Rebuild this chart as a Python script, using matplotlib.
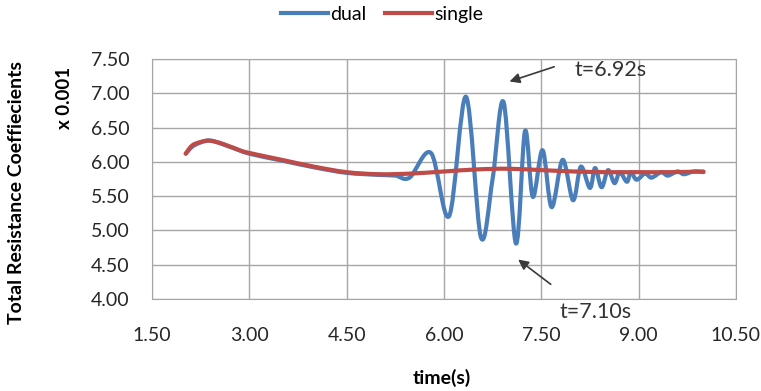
import numpy as np
import matplotlib
matplotlib.use("Agg")
import matplotlib.pyplot as plt
from matplotlib.path import Path
from matplotlib.patches import PathPatch
from matplotlib.lines import Line2D

plt.rcParams['font.family'] = ['Lato', 'DejaVu Sans']

# values (time in s, coefficient x 0.001)
t_dual = [2.02, 2.15, 2.39, 2.70, 3.00, 3.50, 4.00, 4.50, 5.00, 5.25, 5.47, 5.80,
          6.08, 6.34, 6.57, 6.75, 6.92, 7.11, 7.25, 7.37, 7.52, 7.66, 7.83, 7.99,
          8.11, 8.25, 8.33, 8.43, 8.53, 8.63, 8.71, 8.82, 8.88, 8.97, 9.10, 9.20,
          9.35, 9.45, 9.60, 9.70, 9.85, 10.00]
v_dual = [6.12, 6.24, 6.31, 6.22, 6.12, 6.02, 5.92, 5.84, 5.81, 5.80, 5.77, 6.13,
          5.21, 6.95, 4.90, 5.75, 6.87, 4.81, 6.45, 5.49, 6.17, 5.34, 6.03, 5.44,
          5.93, 5.62, 5.91, 5.63, 5.88, 5.69, 5.85, 5.71, 5.85, 5.74, 5.83, 5.77,
          5.85, 5.80, 5.86, 5.82, 5.86, 5.85]

t_single = [2.02, 2.12, 2.25, 2.39, 2.60, 2.85, 3.00, 3.50, 4.00, 4.50, 5.00, 5.50,
            6.00, 6.50, 7.00, 7.50, 8.00, 8.50, 9.00, 9.50, 10.00]
v_single = [6.12, 6.24, 6.29, 6.31, 6.26, 6.17, 6.13, 6.03, 5.93, 5.85, 5.82, 5.83,
            5.86, 5.89, 5.90, 5.88, 5.86, 5.85, 5.85, 5.85, 5.86]

x_ticks = [1.5, 3.0, 4.5, 6.0, 7.5, 9.0, 10.5]
y_ticks = [4.0, 4.5, 5.0, 5.5, 6.0, 6.5, 7.0, 7.5]

blue = '#4a7ebb'
red = '#be4b48'


# smoothed line like the spreadsheet one (Bezier through the points)
def smooth_path(x, y):
    p = np.column_stack([x, y])
    n = len(p)
    verts = [p[0]]
    codes = [Path.MOVETO]
    for i in range(n - 1):
        p0 = p[i - 1] if i > 0 else p[i]
        p3 = p[i + 2] if i + 2 < n else p[i + 1]
        c1 = p[i] + (p[i + 1] - p0) / 6
        c2 = p[i + 1] - (p3 - p[i]) / 6
        verts += [c1, c2, p[i + 1]]
        codes += [Path.CURVE4] * 3
    return Path(verts, codes)


fig = plt.figure(figsize=(7.61, 3.91), dpi=100)
ax = fig.add_axes([0.1997, 0.2353, 0.7673, 0.6137])

for t, v, c in [(t_dual, v_dual, blue), (t_single, v_single, red)]:
    ax.add_patch(PathPatch(smooth_path(t, v), fill=False, edgecolor=c, lw=3,
                           capstyle='round', joinstyle='round'))

ax.set_xlim(1.5, 10.5)
ax.set_ylim(4.0, 7.5)
ax.set_xticks(x_ticks)
ax.set_yticks(y_ticks)
ax.set_xticklabels(['%.2f' % v for v in x_ticks])
ax.set_yticklabels(['%.2f' % v for v in y_ticks])
ax.tick_params(length=0, labelsize=14, colors='#262626')
ax.tick_params(axis='y', pad=16)
ax.tick_params(axis='x', pad=20)
ax.grid(True, color='#a6a6a6', lw=1)
ax.set_axisbelow(True)
for s in ax.spines.values():
    s.set_color('#a6a6a6')

fig.text(0.022, 0.507, 'Total Resistance Coeffiecients', rotation=90, fontsize=14,
         fontweight='bold', ha='center', va='center')
fig.text(0.085, 0.749, 'x 0.001', rotation=90, fontsize=13.5,
         fontweight='bold', ha='center', va='center')
fig.text(0.580, 0.033, 'time(s)', fontsize=14, fontweight='bold',
         ha='center', va='center')

ax.annotate('', xy=(6.97, 7.16), xytext=(7.74, 7.40),
            arrowprops=dict(arrowstyle='-|>', color='#3a3a3a', lw=1.2,
                            mutation_scale=15), annotation_clip=False)
ax.text(8.01, 7.34, 't=6.92s', fontsize=15.5, color='#333333', va='center')
ax.annotate('', xy=(7.11, 4.60), xytext=(7.68, 4.19),
            arrowprops=dict(arrowstyle='-|>', color='#3a3a3a', lw=1.2,
                            mutation_scale=15), annotation_clip=False)
ax.text(7.78, 3.81, 't=7.10s', fontsize=15.5, color='#333333', va='center',
        clip_on=False)

handles = [Line2D([], [], color=blue, lw=3), Line2D([], [], color=red, lw=3)]
fig.legend(handles, ['dual', 'single'], loc='center', bbox_to_anchor=(0.502, 0.963),
           ncol=2, frameon=False, fontsize=14, handlelength=2.4,
           handletextpad=0.1, columnspacing=1.0)

fig.savefig('out.png', dpi=100)
